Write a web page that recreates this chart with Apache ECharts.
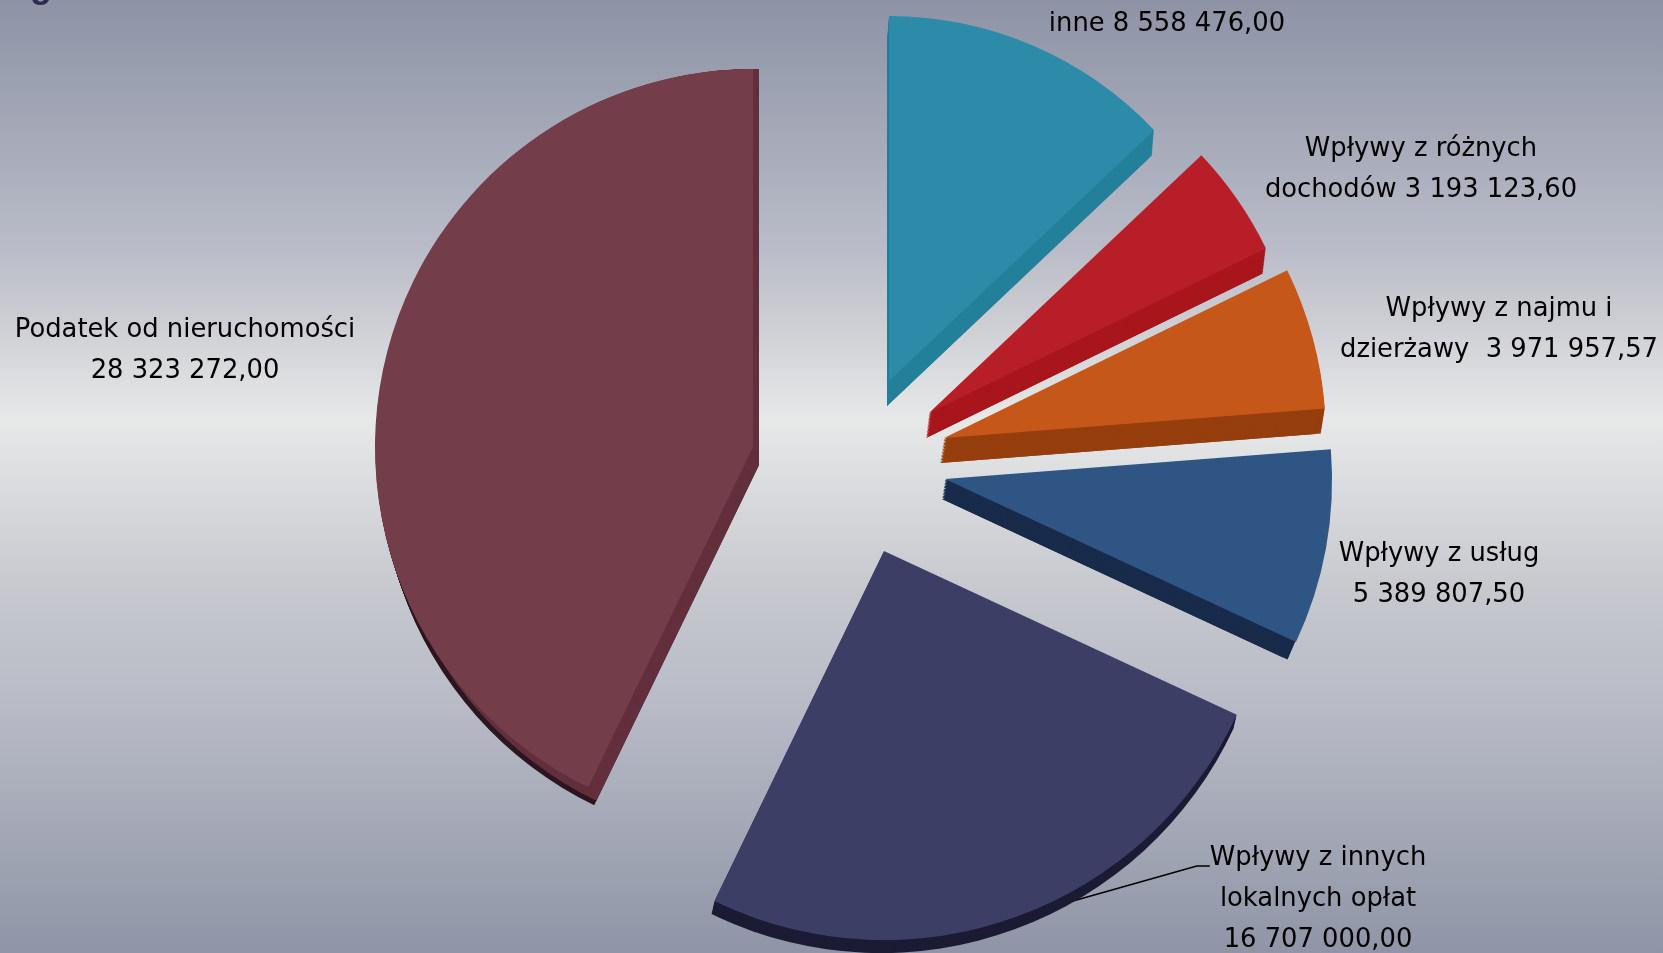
<!DOCTYPE html>
<html>
<head>
<meta charset="utf-8">
<style>html,body{margin:0;padding:0;width:100%;height:100%;overflow:hidden}#c{width:1663px;height:953px}</style>
<script src="https://cdn.jsdelivr.net/npm/echarts@6/dist/echarts.min.js"></script>
</head>
<body>
<div id="c"></div>
<script>
const categories = ['inne','Wpływy z różnych dochodów','Wpływy z najmu i dzierżawy','Wpływy z usług','Wpływy z innych lokalnych opłat','Podatek od nieruchomości'];
const values = [8558476.00, 3193123.60, 3971957.57, 5389807.50, 16707000.00, 28323272.00];
const labelTexts = ['inne 8 558 476,00','Wpływy z różnych\ndochodów 3 193 123,60','Wpływy z najmu i\ndzierżawy  3 971 957,57','Wpływy z usług\n5 389 807,50','{a|Wpływy z innych}','lokalnych opłat\n16 707 000,00','Podatek od nieruchomości\n28 323 272,00'];
const labelSlices = [0,1,2,3,4,4,5];
const labelPos = [[1167,24],[1421,170],[1499,330],[1439,575],[1318,866],[1318,920],[185,351]];
const leaderLabel = 4;

const centers = [[889,381],[929,413],[944,438],[945,479],[884,551],[753,447]];
const radii = [365,375,382,387,389,378];
const depths = [[-2,25],[-3,25],[-4,25],[-3,20],[-3,13],[6,18]];
const wallShrink = [0,0,0,6,0,0];
const faceColors = ['#2C8BA8','#B71E27','#C55818','#2F5585','#3D3E66','#733D4A'];
const wallColors = ['#22809A','#A8161C','#963E0D','#182B4B','#1B1C33','#2E1620'];
const cutColors = ['#22809A','#A8161C','#963E0D','#182B4B','#1B1C33','#632F3C'];

function pieCopy(i, cx, cy, r, color, label) {
  return {
    type: 'pie', silent: true, animation: false, clockwise: true, startAngle: 90,
    center: [cx, cy], radius: [0, r], avoidLabelOverlap: false,
    itemStyle: { borderWidth: 0 },
    emphasis: { disabled: true },
    label: { show: false },
    labelLine: { show: false },
    data: values.map((v, j) => ({
      value: v, name: categories[j],
      itemStyle: { color: j === i ? color : 'rgba(0,0,0,0)' },
      label: (label && j === i) ? {
        show: true, position: 'outside', formatter: labelTexts[label.index], color: '#000',
        fontFamily: 'DejaVu Sans', fontSize: 25.8, lineHeight: 40.5, align: 'center',
        rich: { a: { color: '#000', fontFamily: 'DejaVu Sans', fontSize: 25.8, lineHeight: 40.5, padding: [0, 0, 16, 0] } }
      } : { show: false },
      labelLine: (label && j === i && label.index === leaderLabel) ? {
        show: true, length: 12, length2: 13, lineStyle: { color: '#000', width: 1.5 }
      } : { show: false }
    })),
    labelLayout: label ? (p => p.dataIndex === i ? {
      x: labelPos[label.index][0], y: labelPos[label.index][1], align: 'center', verticalAlign: 'middle', hideOverlap: false
    } : {}) : undefined
  };
}

const series = [];
centers.forEach((c, i) => {
  const steps = Math.ceil(Math.abs(depths[i][1]) / 1.5);
  for (let k = steps; k >= 1; k--) {
    series.push(pieCopy(i, c[0] + depths[i][0]*k/steps, c[1] + depths[i][1]*k/steps, radii[i] - wallShrink[i], wallColors[i]));
  }
  for (let k = steps; k >= 1; k--) {
    series.push(pieCopy(i, c[0] + depths[i][0]*k/steps, c[1] + depths[i][1]*k/steps, radii[i] - 5 - wallShrink[i], cutColors[i]));
  }
  if (i === 5) {
    for (let k = 6; k >= 1; k--) {
      series.push(pieCopy(i, c[0] + depths[i][0]*k/6, c[1], radii[i], cutColors[i]));
    }
  }
});
centers.forEach((c, i) => series.push(pieCopy(i, c[0], c[1], radii[i], faceColors[i])));
labelTexts.forEach((t, n) => {
  const i = labelSlices[n];
  series.push(pieCopy(i, centers[i][0], centers[i][1], radii[i], 'rgba(0,0,0,0)', { index: n }));
});

const chart = echarts.init(document.getElementById('c'), null, { renderer: 'canvas' });
chart.setOption({
  animation: false,
  backgroundColor: {
    type: 'linear', x: 0, y: 0, x2: 0, y2: 1,
    colorStops: [
      { offset: 0, color: '#8D93A5' },
      { offset: 0.26, color: '#B9BCC8' },
      { offset: 0.33, color: '#CBCCD2' },
      { offset: 0.44, color: '#E7E8E8' },
      { offset: 0.62, color: '#C6C8CE' },
      { offset: 0.74, color: '#B8BBC6' },
      { offset: 1, color: '#8F95A6' }
    ]
  },
  graphic: [{
    type: 'text', silent: true, z: 200,
    style: { x: 30, y: -31, text: 'g', font: 'bold 36px "Liberation Sans"', fill: '#2B2C50', verticalAlign: 'top' }
  }],
  series
});
</script>
</body>
</html>
